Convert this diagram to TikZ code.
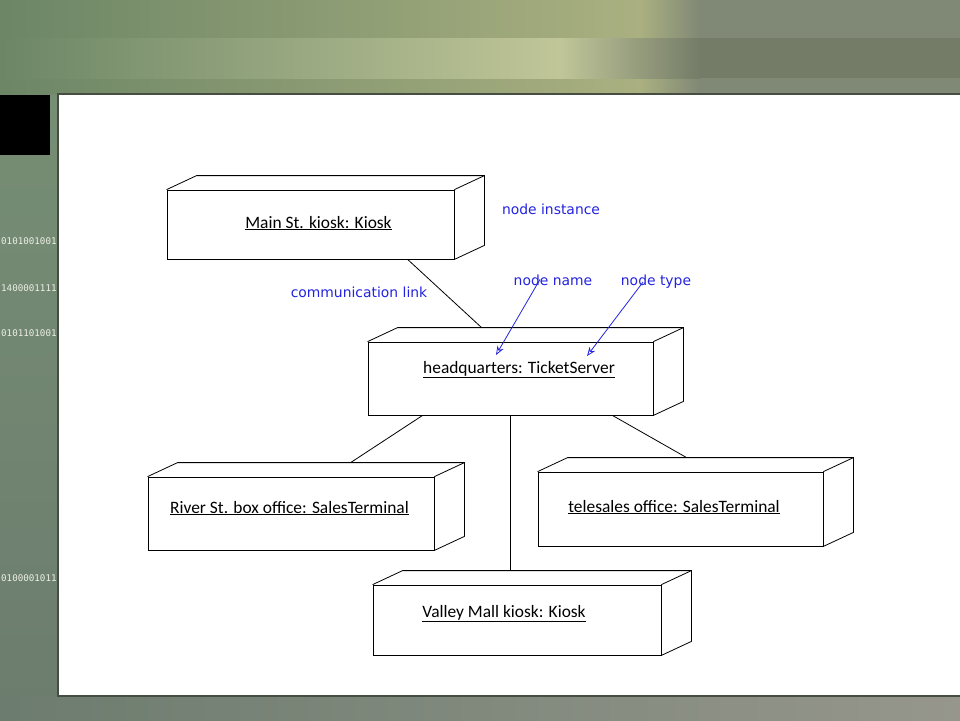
\documentclass[tikz,border=0pt]{standalone}
\usepackage{fontspec}
\setmainfont{Carlito}
\newfontfamily\notefont{DejaVu Sans}
\newfontfamily\bitfont{DejaVu Sans Mono}
\usepackage{tikz}
\usetikzlibrary{calc, arrows.meta, positioning}

% top and side face of a deployment node, drawn onto its front face
\newcommand{\cube}[1]{%
    \draw[edge] (#1.north west) -- ++(30,-14) coordinate (#1-back)
        -- ($(#1.north east)+(30,-14)$) coordinate (#1-corner)
        -- ($(#1.south east)+(30,-14)$) -- (#1.south east);
    \draw[edge] (#1.north east) -- (#1-corner);
}

\tikzset{
    edge/.style={line width=0.8pt, black},
    front/.style={draw, line width=0.8pt, inner sep=0pt},
    boxtext/.style={anchor=base, inner sep=0pt, font=\fontsize{17.4}{20}\selectfont},
    note/.style={anchor=base, inner sep=0pt, text=noteblue, font=\notefont\fontsize{13.9}{16}\selectfont},
    pointer/.style={noteblue, line width=0.8pt, -{Stealth[open, length=9pt, width=7pt]}},
    bits/.style={anchor=base west, inner sep=0pt, text=bitwhite, font=\bitfont\fontsize{9.2}{11}\selectfont}
}

\begin{document}
\begin{tikzpicture}[x=1pt, y=-1pt]
    \definecolor{noteblue}{RGB}{35, 35, 225}
    \definecolor{bitwhite}{RGB}{236, 240, 230}
    \definecolor{bgbase}{RGB}{122, 136, 114}
    \definecolor{topl}{RGB}{108, 134, 102}
    \definecolor{topm}{RGB}{170, 176, 128}
    \definecolor{topr}{RGB}{128, 136, 118}
    \definecolor{bandm}{RGB}{192, 198, 152}
    \definecolor{bandr}{RGB}{116, 124, 104}
    \definecolor{leftt}{RGB}{118, 142, 116}
    \definecolor{leftb}{RGB}{108, 124, 110}
    \definecolor{footr}{RGB}{150, 150, 140}
    \definecolor{panelline}{RGB}{70, 78, 66}
    \useasboundingbox (0,0) rectangle (960,720);

    % slide background
    \fill[bgbase] (0,0) rectangle (960,720);
    \shade[left color=topl, right color=topm] (0,0) rectangle (640,95);
    \shade[left color=topm, right color=topr] (640,0) rectangle (700,95);
    \fill[topr] (700,0) rectangle (960,95);
    \shade[left color=topl, right color=bandm] (0,38) rectangle (560,78);
    \shade[left color=bandm, right color=bandr] (560,38) rectangle (700,78);
    \fill[bandr] (700,38) rectangle (960,78);
    \shade[top color=leftt, bottom color=leftb] (0,95) rectangle (58,720);
    \shade[left color=leftb, right color=footr] (0,696) rectangle (960,720);
    \fill[black] (0,95) rectangle (50,155);
    \node[bits] (bits1) at (1,244) {0101001001};
    \node[bits] (bits2) at (1,291) {1400001111};
    \node[bits] (bits3) at (1,336) {0101101001};
    \node[bits] (bits4) at (1,581) {0100001011};
    \filldraw[fill=white, draw=panelline, line width=1.2pt] (58,94) rectangle (964,696);

    % node instances
    \node[front, minimum width=287pt, minimum height=69pt] (main) at (310.5,224.5) {};
    \cube{main}
    \node[boxtext] (main-text) at (318.5,228) {\underline{Main St. kiosk: Kiosk}};

    \node[front, minimum width=285pt, minimum height=73pt] (hq) at (510.5,378.5) {};
    \cube{hq}
    \node[boxtext] (hq-text) at (519,373) {\underline{headquarters: TicketServer}};

    \node[front, minimum width=286pt, minimum height=73pt] (river) at (291,513.5) {};
    \cube{river}
    \node[boxtext] (river-text) at (289.5,513) {\underline{River St. box office: SalesTerminal}};

    \node[front, minimum width=285pt, minimum height=74pt] (tele) at (680.5,509) {};
    \cube{tele}
    \node[boxtext] (tele-text) at (674,512) {\underline{telesales office: SalesTerminal}};

    \node[front, minimum width=288pt, minimum height=70pt] (valley) at (517,620) {};
    \cube{valley}
    \node[boxtext] (valley-text) at (504,617) {\underline{Valley Mall kiosk: Kiosk}};

    % communication links
    \draw[edge] ($(main.south west)+(241,0)$) -- ($(hq-back)+(84,0)$);
    \draw[edge] ($(hq.south west)+(55,0)$) -- ($(river-back)+(173,0)$);
    \draw[edge] (hq.south) -- (hq.south |- valley-back);
    \draw[edge] ($(hq.south east)+(-41,0)$) -- ($(tele-back)+(119,0)$);

    % notes
    \node[note] (instance) at (551,214) {node instance};
    \node[note] (link) at (359,297) {communication link};
    \node[note] (nname) at (553,285) {node name};
    \node[note] (ntype) at (656,285) {node type};
    \coordinate (name-tip) at (496,355);
    \coordinate (type-tip) at (587,356);
    \draw[pointer] ($(nname.south)+(-13,-6)$) -- (name-tip);
    \draw[pointer] ($(ntype.south)+(-13,-6)$) -- (type-tip);
\end{tikzpicture}
\end{document}
